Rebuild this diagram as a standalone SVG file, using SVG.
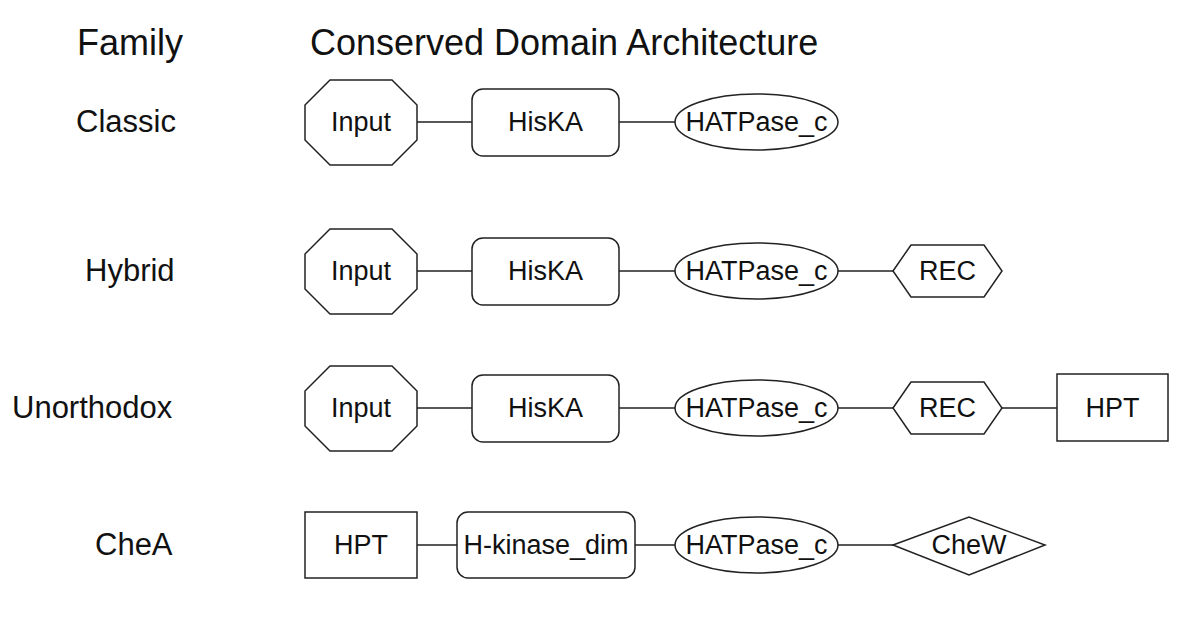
<svg xmlns="http://www.w3.org/2000/svg" width="1200" height="624" viewBox="0 0 1200 624">
<style>
.s{fill:#fff;stroke:#222;stroke-width:1.5}
.t{font-family:"Liberation Sans",Arial,sans-serif;font-size:27px;fill:#111;text-anchor:middle;dominant-baseline:central}
.h{font-family:"Liberation Sans",Arial,sans-serif;font-size:36px;fill:#111}
.f{font-family:"Liberation Sans",Arial,sans-serif;font-size:31px;fill:#111}
.c{stroke:#222;stroke-width:1.5;fill:none}
</style>
<rect width="1200" height="624" fill="#fff"/>
<text class="h" x="77" y="55">Family</text>
<text class="h" x="310" y="55">Conserved Domain Architecture</text>
<text class="f" x="76" y="132">Classic</text>
<text class="f" x="85" y="281">Hybrid</text>
<text class="f" x="12" y="418">Unorthodox</text>
<text class="f" x="95" y="555">CheA</text>
<g id="connectors">
<path class="c" d="M417,122H472M619,122H675"/>
<path class="c" d="M417,271H472M619,271H675M838,271H893"/>
<path class="c" d="M417,408H472M619,408H675M838,408H893M1002,408H1057"/>
<path class="c" d="M417,545H457M635,545H675M838,545H893"/>
</g>
<g id="classic-input"><polygon class="s" points="330,80 392,80 417,105 417,140 392,165 330,165 305,140 305,105"/><text class="t" x="361" y="122">Input</text></g>
<g id="classic-hiska"><rect class="s" x="472" y="89" width="147" height="67" rx="11"/><text class="t" x="545.5" y="122">HisKA</text></g>
<g id="classic-hatpase"><ellipse class="s" cx="756.5" cy="122" rx="81.5" ry="28"/><text class="t" x="756.5" y="122">HATPase_c</text></g>

<g id="hybrid-input"><polygon class="s" points="330,229 392,229 417,254 417,289 392,314 330,314 305,289 305,254"/><text class="t" x="361" y="271">Input</text></g>
<g id="hybrid-hiska"><rect class="s" x="472" y="238" width="147" height="67" rx="11"/><text class="t" x="545.5" y="271">HisKA</text></g>
<g id="hybrid-hatpase"><ellipse class="s" cx="756.5" cy="271" rx="81.5" ry="28"/><text class="t" x="756.5" y="271">HATPase_c</text></g>
<g id="hybrid-rec"><polygon class="s" points="893,271 911,245 984,245 1002,271 984,297 911,297"/><text class="t" x="947.5" y="271">REC</text></g>

<g id="unorthodox-input"><polygon class="s" points="330,366 392,366 417,391 417,426 392,451 330,451 305,426 305,391"/><text class="t" x="361" y="408">Input</text></g>
<g id="unorthodox-hiska"><rect class="s" x="472" y="375" width="147" height="67" rx="11"/><text class="t" x="545.5" y="408">HisKA</text></g>
<g id="unorthodox-hatpase"><ellipse class="s" cx="756.5" cy="408" rx="81.5" ry="28"/><text class="t" x="756.5" y="408">HATPase_c</text></g>
<g id="unorthodox-rec"><polygon class="s" points="893,408 911,382 984,382 1002,408 984,434 911,434"/><text class="t" x="947.5" y="408">REC</text></g>
<g id="unorthodox-hpt"><rect class="s" x="1057" y="374" width="111" height="67"/><text class="t" x="1112.5" y="408">HPT</text></g>

<g id="chea-hpt"><rect class="s" x="305" y="512" width="112" height="66"/><text class="t" x="361" y="545">HPT</text></g>
<g id="chea-hkinase"><rect class="s" x="457" y="512" width="178" height="66" rx="11"/><text class="t" x="546" y="545">H-kinase_dim</text></g>
<g id="chea-hatpase"><ellipse class="s" cx="756.5" cy="545" rx="81.5" ry="28"/><text class="t" x="756.5" y="545">HATPase_c</text></g>
<g id="chea-chew"><polygon class="s" points="893,545 969,517 1045,545 969,575"/><text class="t" x="969" y="545">CheW</text></g>
</svg>
